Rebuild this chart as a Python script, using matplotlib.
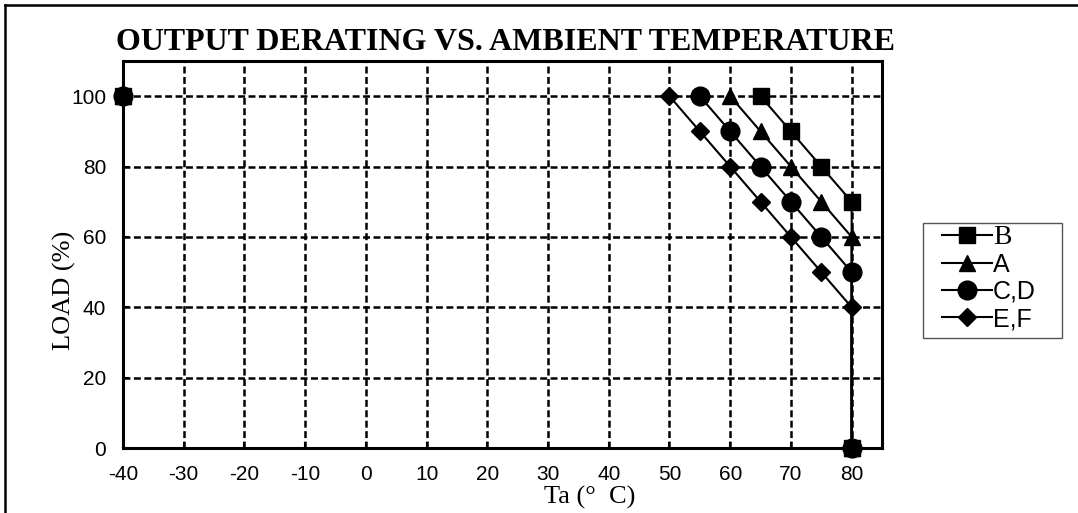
import numpy as np
import matplotlib
matplotlib.use("Agg")
import matplotlib.pyplot as plt
from matplotlib.lines import Line2D
from matplotlib.patches import Rectangle

# derating curves
series_names = ["B", "A", "C,D", "E,F"]
b_temp = [65, 70, 75, 80, 80]
b_load = [100, 90, 80, 70, 0]
a_temp = [60, 65, 70, 75, 80, 80]
a_load = [100, 90, 80, 70, 60, 0]
cd_temp = [55, 60, 65, 70, 75, 80, 80]
cd_load = [100, 90, 80, 70, 60, 50, 0]
ef_temp = [50, 55, 60, 65, 70, 75, 80, 80]
ef_load = [100, 90, 80, 70, 60, 50, 40, 0]
# lowest rated temperature point (marker only)
low_temp = -40
low_load = 100

x_ticks = list(range(-40, 81, 10))
y_ticks = list(range(0, 101, 20))

plt.rcParams['lines.scale_dashes'] = False
plt.rcParams['axes.unicode_minus'] = False
sans = 'Liberation Sans'
serif = 'Liberation Serif'

W, H = 1078, 513
fig = plt.figure(figsize=(W / 100, H / 100), dpi=100)
ax = fig.add_axes([123 / W, 65 / H, 759 / W, 387 / H])

temps = [b_temp, a_temp, cd_temp, ef_temp]
loads = [b_load, a_load, cd_load, ef_load]
markers = ['s', '^', 'o', 'D']
msizes = [11.5, 11, 13.5, 8.8]

for name, t, l, m, ms in zip(series_names, temps, loads, markers, msizes):
    ax.plot(t, l, color='black', lw=1.5, marker=m, markersize=ms,
            label=name, zorder=3, clip_on=False)
    ax.plot([low_temp], [low_load], color='black', marker=m, markersize=ms,
            linestyle='none', zorder=3, clip_on=False)

ax.set_xlim(-40, 85)
ax.set_ylim(0, 110)
ax.set_xticks(x_ticks)
ax.set_yticks(y_ticks)
ax.grid(True, color='black', lw=1.8, linestyle=(0, (5, 2.5)))
ax.set_axisbelow(True)
for s in ax.spines.values():
    s.set_linewidth(2.2)
ax.tick_params(direction='in', length=4, width=1.5, pad=12, labelsize=15)
for lab in ax.get_xticklabels() + ax.get_yticklabels():
    lab.set_fontfamily(sans)

fig.text(505 / W, 1 - 50 / H, 'OUTPUT DERATING VS. AMBIENT TEMPERATURE',
         ha='center', va='baseline', fontsize=23, fontweight='bold',
         family=serif)
fig.text(590 / W, 1 - 504 / H, 'Ta (°  C)', ha='center', va='baseline',
         fontsize=19, family=serif)
fig.text(64 / W, 1 - 290 / H, 'LOAD (%)', ha='center', va='center',
         rotation=90, fontsize=19, family=serif)

# legend without its own frame, boxed by a separate rectangle
leg = ax.legend(loc='upper left', bbox_to_anchor=(942 / W, 1 - 225 / H),
                bbox_transform=fig.transFigure, frameon=False,
                prop={'family': sans, 'size': 18}, handlelength=2.0,
                handletextpad=0.05, labelspacing=0.12, borderpad=0,
                borderaxespad=0)
leg.get_texts()[0].set_fontfamily(serif)
leg.get_texts()[0].set_fontsize(20)
fig.add_artist(Rectangle((923 / W, 1 - 338 / H), 139 / W, 115 / H,
                         transform=fig.transFigure, fill=False,
                         edgecolor='#555555', lw=1.0))

# outer border (top and left edges visible)
fig.add_artist(Line2D([5 / W, 5 / W], [0, 1 - 5 / H], color='black',
                      lw=1.8, transform=fig.transFigure))
fig.add_artist(Line2D([5 / W, 1], [1 - 5 / H, 1 - 5 / H], color='black',
                      lw=1.8, transform=fig.transFigure))

fig.savefig('out.png', dpi=100)
